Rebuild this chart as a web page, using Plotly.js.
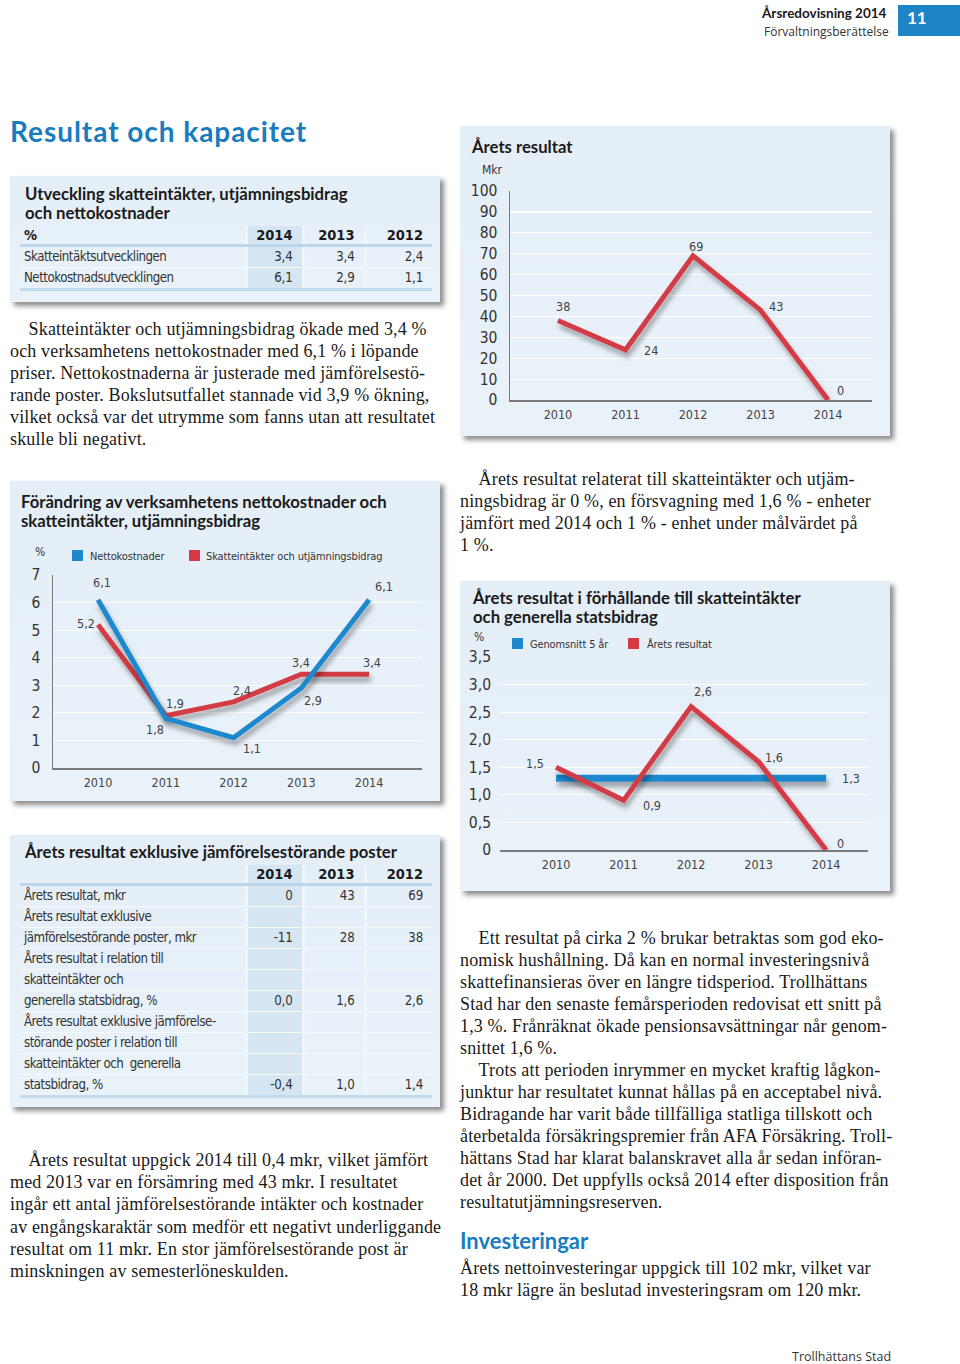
<!DOCTYPE html>
<html><head><meta charset="utf-8">
<script src="https://cdn.plot.ly/plotly-3.0.1.min.js"></script>
<style>
body{margin:0;background:#fff;}
#page{position:relative;width:960px;height:1364px;overflow:hidden;background:#fff;}
.abs{position:absolute;white-space:nowrap;}
.serif{font-family:"Liberation Serif","DejaVu Serif",serif;font-size:18px;letter-spacing:0.15px;line-height:22px;color:#1a1a1a;}
.head{font-family:Lato,"Open Sans",sans-serif;font-weight:bold;color:#1a1a1a;}
.narrow{font-family:"Liberation Sans Narrow","DejaVu Sans Condensed",sans-serif;color:#333;}
.panel{position:absolute;background:linear-gradient(180deg,#e4eef7,#eaf2f9);box-shadow:4px 4px 5px rgba(0,0,0,0.45);}
.chart{position:absolute;}
table.t{position:absolute;border-collapse:collapse;font-family:"Liberation Sans Narrow","DejaVu Sans Condensed",sans-serif;font-size:13.2px;letter-spacing:-0.5px;color:#333;table-layout:fixed;}
table.t td{padding:0 9px 0 4px;height:20px;line-height:20px;border-bottom:1px solid #f6fafd;white-space:nowrap;overflow:visible;}
table.t td.v{text-align:right;border-left:3px solid #eef5fb;letter-spacing:-0.2px;}
table.t td.c1{background:#d5e5f2;}
table.t tr.h td{font-weight:bold;font-size:14.5px;letter-spacing:0;color:#1a1a1a;height:18px;line-height:18px;border-bottom:3px solid #bcd6eb;}
table.t tr.last td{border-bottom:3px solid #c3dbee;}
.sq{position:absolute;width:11px;height:11px;}
.leg{font-size:11px;letter-spacing:-0.15px;}
</style></head>
<body><div id="page">

<!-- header -->
<div class="abs head" style="left:762px;top:5px;font-size:13.5px;">Årsredovisning 2014</div>
<div class="abs" style="left:764px;top:23px;font-size:12px;font-family:'Open Sans',sans-serif;color:#333;">Förvaltningsberättelse</div>
<div class="abs" style="left:898px;top:5px;width:62px;height:31px;background:#1d85c6;"></div>
<div class="abs head" style="left:907px;top:7px;font-size:17px;color:#fff;">11</div>

<div class="abs head" style="left:10px;top:114px;font-size:28px;letter-spacing:0.95px;color:#1a7cc0;">Resultat och kapacitet</div>

<!-- panel table 1 -->
<div class="panel" style="left:10px;top:176px;width:430px;height:126px;"></div>
<div class="abs head" style="left:25px;top:185px;font-size:16.7px;line-height:19px;">Utveckling skatteintäkter, utjämningsbidrag<br>och nettokostnader</div>
<table class="t" id="tab1" style="left:20px;top:226px;width:412px;"></table>

<div class="abs serif" style="left:10px;top:318px;">&nbsp;&nbsp;&nbsp;&nbsp;Skatteintäkter och utjämningsbidrag ökade med 3,4 %<br>och verksamhetens nettokostnader med 6,1 % i löpande<br>priser. Nettokostnaderna är justerade med jämförelsestö-<br>rande poster. Bokslutsutfallet stannade vid 3,9 % ökning,<br>vilket också var det utrymme som fanns utan att resultatet<br>skulle bli negativt.</div>

<!-- panel chart 2 -->
<div class="panel" style="left:10px;top:481px;width:430px;height:320px;"></div>
<div class="abs head" style="left:21px;top:493px;font-size:16.7px;line-height:19px;">Förändring av verksamhetens nettokostnader och<br>skatteintäkter, utjämningsbidrag</div>
<div id="c2" class="chart" style="left:10px;top:481px;width:430px;height:320px;"></div>
<div class="abs narrow" style="left:35px;top:545px;font-size:12px;">%</div>
<div class="sq" style="left:72px;top:550px;background:#1f88cd;"></div>
<div class="abs narrow leg" style="left:90px;top:550px;">Nettokostnader</div>
<div class="sq" style="left:189px;top:550px;background:#d33a45;"></div>
<div class="abs narrow leg" style="left:206px;top:550px;">Skatteintäkter och utjämningsbidrag</div>

<!-- panel chart 3 -->
<div class="panel" style="left:460px;top:126px;width:430px;height:310px;"></div>
<div class="abs head" style="left:472px;top:137px;font-size:16.7px;">Årets resultat</div>
<div id="c3" class="chart" style="left:460px;top:126px;width:430px;height:310px;"></div>
<div class="abs narrow" style="left:482px;top:163px;font-size:12px;">Mkr</div>

<div class="abs serif" style="left:460px;top:468px;">&nbsp;&nbsp;&nbsp;&nbsp;Årets resultat relaterat till skatteintäkter och utjäm-<br>ningsbidrag är 0 %, en försvagning med 1,6 % - enheter<br>jämfört med 2014 och 1 % - enhet under målvärdet på<br>1 %.</div>

<!-- panel chart 4 -->
<div class="panel" style="left:460px;top:581px;width:430px;height:310px;"></div>
<div class="abs head" style="left:473px;top:589px;font-size:16.7px;line-height:19px;">Årets resultat i förhållande till skatteintäkter<br>och generella statsbidrag</div>
<div id="c4" class="chart" style="left:460px;top:581px;width:430px;height:310px;"></div>
<div class="abs narrow" style="left:474px;top:630px;font-size:12px;">%</div>
<div class="sq" style="left:512px;top:638px;background:#1f88cd;"></div>
<div class="abs narrow leg" style="left:530px;top:638px;">Genomsnitt 5 år</div>
<div class="sq" style="left:628px;top:638px;background:#d33a45;"></div>
<div class="abs narrow leg" style="left:647px;top:638px;">Årets resultat</div>

<!-- panel table 2 -->
<div class="panel" style="left:10px;top:835px;width:430px;height:272px;"></div>
<div class="abs head" style="left:25px;top:842px;font-size:16.7px;">Årets resultat exklusive jämförelsestörande poster</div>
<table class="t" id="tab2" style="left:20px;top:865px;width:412px;"></table>

<div class="abs serif" style="left:10px;top:1149px;line-height:22.2px;">&nbsp;&nbsp;&nbsp;&nbsp;Årets resultat uppgick 2014 till 0,4 mkr, vilket jämfört<br>med 2013 var en försämring med 43 mkr. I resultatet<br>ingår ett antal jämförelsestörande intäkter och kostnader<br>av engångskaraktär som medför ett negativt underliggande<br>resultat om 11 mkr. En stor jämförelsestörande post är<br>minskningen av semesterlöneskulden.</div>

<div class="abs serif" style="left:460px;top:927px;">&nbsp;&nbsp;&nbsp;&nbsp;Ett resultat på cirka 2 % brukar betraktas som god eko-<br>nomisk hushållning. Då kan en normal investeringsnivå<br>skattefinansieras över en längre tidsperiod. Trollhättans<br>Stad har den senaste femårsperioden redovisat ett snitt på<br>1,3 %. Frånräknat ökade pensionsavsättningar når genom-<br>snittet 1,6 %.<br>&nbsp;&nbsp;&nbsp;&nbsp;Trots att perioden inrymmer en mycket kraftig lågkon-<br>junktur har resultatet kunnat hållas på en acceptabel nivå.<br>Bidragande har varit både tillfälliga statliga tillskott och<br>återbetalda försäkringspremier från AFA Försäkring. Troll-<br>hättans Stad har klarat balanskravet alla år sedan införan-<br>det år 2000. Det uppfylls också 2014 efter disposition från<br>resultatutjämningsreserven.</div>

<div class="abs head" style="left:460px;top:1227px;font-size:22px;color:#1a7cc0;">Investeringar</div>
<div class="abs serif" style="left:460px;top:1257px;">Årets nettoinvesteringar uppgick till 102 mkr, vilket var<br>18 mkr lägre än beslutad investeringsram om 120 mkr.</div>

<div class="abs" style="left:792px;top:1349px;font-size:12.5px;line-height:16px;font-family:'Open Sans',sans-serif;color:#333;">Trollhättans Stad</div>

</div>
<script>
// ---------- data ----------
const years = [2010, 2011, 2012, 2013, 2014];
const aretsResultatMkr = [38, 24, 69, 43, 0];
const nettokostnader = [6.1, 1.8, 1.1, 2.9, 6.1];
const skatteintakter = [5.2, 1.9, 2.4, 3.4, 3.4];
const resultatPct = [1.5, 0.9, 2.6, 1.6, 0];
const genomsnitt5ar = [1.3, 1.3, 1.3, 1.3, 1.3];

const tab1Years = ["2014", "2013", "2012"];
const tab1Rows = ["Skatteintäktsutvecklingen", "Nettokostnadsutvecklingen"];
const tab1Values = [["3,4", "3,4", "2,4"], ["6,1", "2,9", "1,1"]];

const tab2Labels = [
  ["Årets resultat, mkr"],
  ["Årets resultat exklusive", "jämförelsestörande poster, mkr"],
  ["Årets resultat i relation till", "skatteintäkter och", "generella statsbidrag, %"],
  ["Årets resultat exklusive jämförelse-", "störande poster i relation till", "skatteintäkter och\u00a0 generella", "statsbidrag, %"]
];
const tab2Values = [["0", "43", "69"], ["-11", "28", "38"], ["0,0", "1,6", "2,6"], ["-0,4", "1,0", "1,4"]];

// ---------- tables ----------
function buildTable(id, firstHeader, rows) {
  let h = '<colgroup><col style="width:226px"><col style="width:57px"><col style="width:62px"><col style="width:67px"></colgroup>';
  h += '<tr class="h"><td>' + firstHeader + '</td>' + tab1Years.map((y, i) => '<td class="v' + (i === 0 ? ' c1' : '') + '">' + y + '</td>').join('') + '</tr>';
  rows.forEach((r, k) => {
    h += '<tr' + (k === rows.length - 1 ? ' class="last"' : '') + '><td>' + r[0] + '</td>' + r[1].map((v, i) => '<td class="v' + (i === 0 ? ' c1' : '') + '">' + v + '</td>').join('') + '</tr>';
  });
  document.getElementById(id).innerHTML = h;
}
buildTable('tab1', '%', tab1Rows.map((r, i) => [r, tab1Values[i]]));
const t2rows = [];
tab2Labels.forEach((lines, i) => {
  lines.forEach((ln, j) => {
    t2rows.push([ln, j === lines.length - 1 ? tab2Values[i] : ["", "", ""]]);
  });
});
buildTable('tab2', '', t2rows);

// ---------- charts ----------
const RED = '#d33a45', BLUE = '#1f88cd';
const NARROW = '"Liberation Sans Narrow","DejaVu Sans Condensed",sans-serif';
const fmt = v => String(v).replace('.', ',');
const cfg = {staticPlot: true, displayModeBar: false};

function baseLayout(w, h, m, xr, yr, ytv, ytt, showY) {
  return {
    width: w, height: h, margin: m,
    paper_bgcolor: 'rgba(0,0,0,0)', plot_bgcolor: 'rgba(0,0,0,0)',
    showlegend: false, separators: ', ',
    font: {family: NARROW, color: '#333'},
    xaxis: {range: xr, tickvals: years, ticktext: years.map(String), showgrid: false, zeroline: false,
      showline: true, linecolor: '#7a7a7a', linewidth: 1.5, ticks: '', tickfont: {size: 12.5, color: '#444'}, ticklabelstandoff: 2},
    yaxis: {range: yr, tickvals: ytv, ticktext: ytt, showgrid: true, gridcolor: '#ffffff', gridwidth: 1.2,
      zeroline: false, showline: showY, linecolor: '#7a7a7a', linewidth: 1.5, ticks: '',
      tickfont: {size: 15.5, color: '#333'}, ticklabelstandoff: 8},
    annotations: []
  };
}
function labels(xs, ys, shifts, textOf) {
  return xs.map((x, i) => ({x: x, y: ys[i], text: textOf(ys[i], i), showarrow: false,
    xanchor: 'center', yanchor: 'middle', xshift: shifts[i][0], yshift: shifts[i][1],
    font: {size: 12.5, color: '#444', family: NARROW}}));
}
function lineTrace(y, color, width) {
  return {x: years, y: y, mode: 'lines', line: {color: color, width: width}, hoverinfo: 'skip'};
}
function addShadow(gd) {
  const svg = gd.querySelector('svg.main-svg');
  const ns = 'http://www.w3.org/2000/svg';
  let defs = svg.querySelector('defs');
  if (!defs) { defs = document.createElementNS(ns, 'defs'); svg.insertBefore(defs, svg.firstChild); }
  const f = document.createElementNS(ns, 'filter');
  f.setAttribute('id', 'sh_' + gd.id);
  f.setAttribute('filterUnits', 'userSpaceOnUse');
  f.setAttribute('x', '-200'); f.setAttribute('y', '-200');
  f.setAttribute('width', '1000'); f.setAttribute('height', '1000');
  f.innerHTML = '<feDropShadow dx="2" dy="5" stdDeviation="2.5" flood-color="#000" flood-opacity="0.35"/>';
  defs.appendChild(f);
  gd.querySelectorAll('.scatterlayer path.js-line').forEach(p => p.setAttribute('filter', 'url(#sh_' + gd.id + ')'));
}

// Årets resultat
const l3 = baseLayout(430, 310, {l: 50, r: 18, t: 65, b: 36}, [2009.29, 2014.65], [0, 100],
  [0,10,20,30,40,50,60,70,80,90,100], ['0','10','20','30','40','50','60','70','80','90','100'], true);
l3.annotations = labels(years, aretsResultatMkr, [[5,14],[26,-1],[3,9],[15,4],[12,10]], v => fmt(v));
Plotly.newPlot('c3', [lineTrace(aretsResultatMkr, RED, 5)], l3, cfg).then(addShadow);

// Förändring
const l2 = baseLayout(430, 320, {l: 43, r: 18, t: 94, b: 33}, [2009.336, 2014.78], [0, 7],
  [0,1,2,3,4,5,6,7], ['0','1','2','3','4','5','6','7'], true);
l2.annotations = labels(years, skatteintakter, [[-12,1],[9,12],[8,11],[0,12],[3,12]], v => fmt(v))
  .concat(labels(years, nettokostnader, [[4,17],[-11,-11],[18,-11],[12,-12],[15,13]], v => fmt(v)));
Plotly.newPlot('c2', [lineTrace(skatteintakter, RED, 5), lineTrace(nettokostnader, BLUE, 5)], l2, cfg).then(addShadow);

// Årets resultat i förhållande
const l4 = baseLayout(430, 310, {l: 40, r: 22, t: 76, b: 41}, [2009.17, 2014.62], [0, 3.5],
  [0,0.5,1,1.5,2,2.5,3,3.5], ['0','0,5','1,0','1,5','2,0','2,5','3,0','3,5'], false);
l4.annotations = labels(years, resultatPct, [[-21,4],[28,-5],[12,15],[15,4],[14,7]], v => fmt(v))
  .concat(labels(years.slice(-1), genomsnitt5ar.slice(-1), [[25,0]], v => fmt(v)));
Plotly.newPlot('c4', [lineTrace(genomsnitt5ar, BLUE, 7), lineTrace(resultatPct, RED, 5)], l4, cfg).then(addShadow);
</script>
</body></html>
